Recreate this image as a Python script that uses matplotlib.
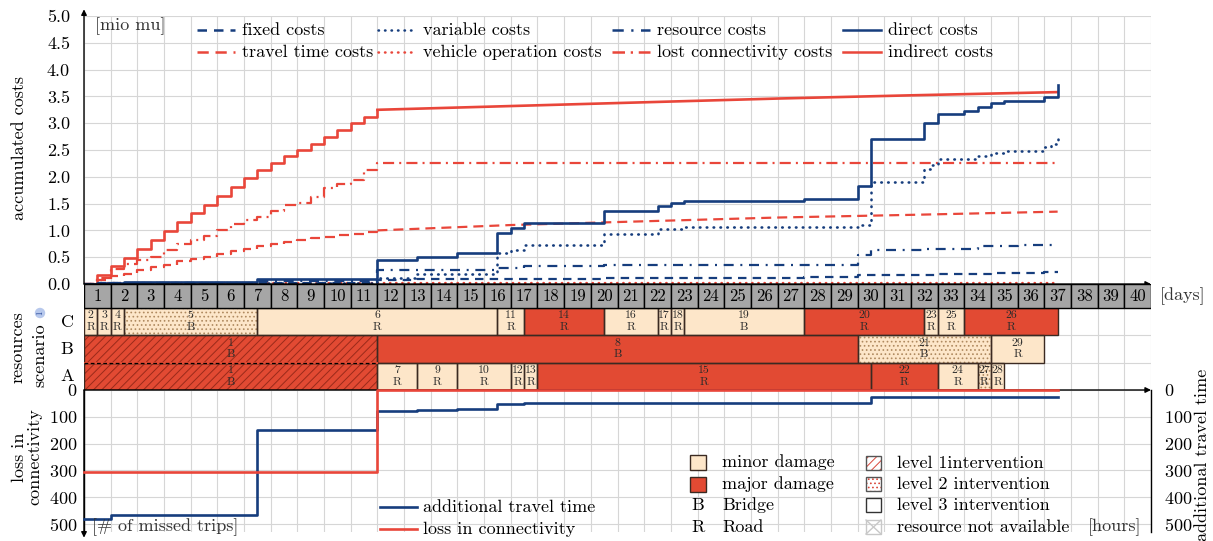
import numpy as np
import matplotlib
matplotlib.use("Agg")
import matplotlib.pyplot as plt
from matplotlib.patches import Rectangle
from matplotlib.lines import Line2D

plt.rcParams['font.family'] = ['cmr10', 'DejaVu Serif']
plt.rcParams['mathtext.fontset'] = 'cm'
plt.rcParams['axes.formatter.use_mathtext'] = True
plt.rcParams['hatch.linewidth'] = 0.7

# ---- accumulated costs [mio mu], step breakpoints (day, value) ----
indirect_days = [0, 0.5, 1, 1.5, 2, 2.5, 3, 3.5, 4, 4.5, 5, 5.5, 6, 6.5, 7, 7.5, 8, 8.5, 9, 9.5, 10, 10.5, 11]
indirect_vals = [0, 0.16, 0.33, 0.49, 0.65, 0.82, 0.98, 1.15, 1.32, 1.48, 1.64, 1.81, 1.97, 2.13, 2.26, 2.38, 2.50, 2.62, 2.75, 2.87, 3.00, 3.12, 3.25]
indirect_tail_days = [11, 16, 21, 26, 31, 36.5]
indirect_tail_vals = [3.25, 3.32, 3.39, 3.46, 3.52, 3.58]

travel_days = [0, 0.5, 1, 1.5, 2, 2.5, 3, 3.5, 4, 4.5, 5, 5.5, 6, 6.5, 7, 7.5, 8, 8.5, 9, 9.5, 10, 10.5, 11]
travel_vals = [0, 0.08, 0.15, 0.19, 0.27, 0.32, 0.36, 0.42, 0.46, 0.50, 0.56, 0.61, 0.66, 0.71, 0.75, 0.79, 0.83, 0.86, 0.88, 0.91, 0.94, 0.97, 1.00]
travel_tail_days = [11, 16, 21, 26, 31, 36.5]
travel_tail_vals = [1.00, 1.10, 1.17, 1.24, 1.29, 1.35]

lost_days = [0, 0.5, 1, 1.5, 2, 2.5, 3, 3.5, 4, 4.5, 5, 5.5, 6, 6.5, 7, 7.5, 8, 8.5, 9, 9.5, 10, 10.5, 11, 36.5]
lost_vals = [0, 0.12, 0.28, 0.37, 0.45, 0.50, 0.63, 0.75, 0.83, 0.90, 1.00, 1.12, 1.20, 1.25, 1.37, 1.48, 1.52, 1.62, 1.80, 1.86, 1.94, 2.12, 2.25, 2.25]

vehicle_days = [0, 0.5, 36.5]
vehicle_vals = [0, 0.01, 0.01]

direct_days = [0, 0.5, 1, 1.5, 6.5, 11, 12.5, 14, 15.5, 16, 16.5, 19.5, 21.5, 22, 22.5, 27, 29, 29.5, 31.5, 32, 33, 33.5, 34, 34.5, 36, 36.5]
direct_vals = [0, 0.01, 0.02, 0.03, 0.09, 0.45, 0.50, 0.57, 0.95, 1.04, 1.13, 1.37, 1.46, 1.51, 1.54, 1.58, 1.82, 2.70, 3.00, 3.18, 3.22, 3.30, 3.37, 3.42, 3.49, 3.72]

variable_days = [0, 0.5, 6.5, 11, 12.5, 14, 15.5, 16, 16.5, 19.5, 21.5, 22.5, 29, 29.5, 31.5, 31.75, 32, 33.5, 34, 34.5, 36, 36.25, 36.5]
variable_vals = [0, 0.005, 0.02, 0.12, 0.18, 0.19, 0.57, 0.63, 0.73, 0.93, 1.02, 1.07, 1.10, 1.91, 2.14, 2.22, 2.33, 2.38, 2.44, 2.49, 2.56, 2.62, 2.72]

resource_days = [0, 0.5, 1.5, 6.5, 11, 15.5, 16.5, 19.5, 22.5, 29, 29.5, 31.5, 33.5, 35, 36.5]
resource_vals = [0, 0.01, 0.015, 0.05, 0.26, 0.30, 0.33, 0.35, 0.36, 0.54, 0.63, 0.65, 0.70, 0.73, 0.73]

fixed_days = [0, 0.5, 6.5, 11, 12.5, 16, 19.5, 22.5, 27, 29, 32, 34, 36, 36.5]
fixed_vals = [0, 0.01, 0.02, 0.07, 0.09, 0.10, 0.11, 0.12, 0.13, 0.16, 0.18, 0.21, 0.22, 0.22]

# ---- scenario 1 schedule per resource ----
c_ids = [2, 3, 4, 5, 6, 11, 14, 16, 17, 18, 19, 20, 23, 25, 26]
c_start = [0, 0.5, 1, 1.5, 6.5, 15.5, 16.5, 19.5, 21.5, 22, 22.5, 27, 31.5, 32, 33]
c_end = [0.5, 1, 1.5, 6.5, 15.5, 16.5, 19.5, 21.5, 22, 22.5, 27, 31.5, 32, 33, 36.5]
c_obj = ['R', 'R', 'R', 'B', 'R', 'R', 'R', 'R', 'R', 'R', 'B', 'R', 'R', 'R', 'R']
c_damage = ['minor', 'minor', 'minor', 'minor', 'minor', 'minor', 'major', 'minor', 'minor', 'minor', 'minor', 'major', 'minor', 'minor', 'major']
c_level = [3, 3, 3, 2, 3, 3, 3, 3, 3, 3, 3, 3, 3, 3, 3]

b_ids = [1, 8, 21, 29]
b_start = [0, 11, 29, 34]
b_end = [11, 29, 34, 36]
b_obj = ['B', 'B', 'B', 'R']
b_damage = ['major', 'major', 'minor', 'minor']
b_level = [1, 3, 2, 3]

a_ids = [1, 7, 9, 10, 12, 13, 15, 22, 24, 27, 28]
a_start = [0, 11, 12.5, 14, 16, 16.5, 17, 29.5, 32, 33.5, 34]
a_end = [11, 12.5, 14, 16, 16.5, 17, 29.5, 32, 33.5, 34, 34.5]
a_obj = ['B', 'R', 'R', 'R', 'R', 'R', 'R', 'R', 'R', 'R', 'R']
a_damage = ['major', 'minor', 'minor', 'minor', 'minor', 'minor', 'major', 'major', 'minor', 'minor', 'minor']
a_level = [1, 3, 3, 3, 3, 3, 3, 3, 3, 2, 3]

days = list(range(1, 41))

# ---- network performance ----
missed_days = [0, 11, 36.5]
missed_trips = [305, 0, 0]
extra_days = [0, 1, 6.5, 11, 12.5, 14, 15.5, 16.5, 29.5, 36.5]
extra_hours = [480, 465, 150, 77, 75, 72, 53, 50, 27, 27]

W, H = 1213, 541
BLUE = '#163d7d'
RED = '#e9463a'
MAJOR = '#e24a33'
MINOR = '#fde6c9'
GRID = '#d6d6d6'
HEAD = '#a6a6a6'
FS = 13

ls_fixed = (0, (3.8, 2.8))
ls_var = (0, (0.2, 2.4))
ls_res = (0, (4.5, 3.0, 0.9, 3.0))
ls_travel = (0, (4.5, 2.7))
ls_lost = (0, (5.0, 2.3, 0.9, 2.3))


def fx(x):
    return x / W


def fy(y):
    return 1 - y / H


fig = plt.figure(figsize=(W / 100, H / 100), dpi=100)

ax_top = fig.add_axes([fx(84), fy(284), 1067 / W, 268 / H])
ax_mid = fig.add_axes([fx(84), fy(390), 1067 / W, 106 / H])
ax_bot = fig.add_axes([fx(84), fy(532), 1067 / W, 142 / H])

# ---------------- costs panel ----------------
ax_top.set_xlim(0, 40)
ax_top.set_ylim(0, 5.0)
ax_top.set_xticks(range(41))
ax_top.set_xticklabels([])
ax_top.set_yticks(np.arange(0, 5.01, 0.5))
ax_top.set_yticklabels([f'{v:.1f}' for v in np.arange(0, 5.01, 0.5)])
ax_top.tick_params(length=0, labelsize=FS)
ax_top.tick_params(axis='y', pad=10)
ax_top.grid(True, color=GRID, lw=0.8)
ax_top.set_axisbelow(True)
for s in ax_top.spines.values():
    s.set_visible(False)

ax_top.plot(vehicle_days, vehicle_vals, drawstyle='steps-post', color=RED, lw=1.7, ls=ls_var,
            dash_capstyle='round')
ax_top.plot(travel_days, travel_vals, drawstyle='steps-post', color=RED, lw=1.6, ls=ls_travel)
ax_top.plot(travel_tail_days, travel_tail_vals, color=RED, lw=1.6, ls=ls_travel)
ax_top.plot(lost_days, lost_vals, drawstyle='steps-post', color=RED, lw=1.6, ls=ls_lost)
ax_top.plot(indirect_days, indirect_vals, drawstyle='steps-post', color=RED, lw=1.9)
ax_top.plot(indirect_tail_days, indirect_tail_vals, color=RED, lw=1.9)
ax_top.plot(fixed_days, fixed_vals, drawstyle='steps-post', color=BLUE, lw=1.6, ls=ls_fixed)
ax_top.plot(variable_days, variable_vals, drawstyle='steps-post', color=BLUE, lw=1.9, ls=ls_var,
            dash_capstyle='round')
ax_top.plot(resource_days, resource_vals, drawstyle='steps-post', color=BLUE, lw=1.6, ls=ls_res)
ax_top.plot(direct_days, direct_vals, drawstyle='steps-post', color=BLUE, lw=1.9)

arrow = dict(arrowstyle='-|>', color='black', lw=1, mutation_scale=8, shrinkA=0, shrinkB=0)
ax_top.annotate('', xy=(0, 1.025), xytext=(0, 0), xycoords='axes fraction', arrowprops=arrow)
ax_top.annotate('', xy=(1.0, 0), xytext=(0, 0), xycoords='axes fraction', arrowprops=arrow)

# legend of the costs panel
legend_rows = [
    [('fixed costs', BLUE, ls_fixed, 197), ('variable costs', BLUE, ls_var, 378),
     ('resource costs', BLUE, ls_res, 612), ('direct costs', BLUE, '-', 843)],
    [('travel time costs', RED, ls_travel, 197), ('vehicle operation costs', RED, ls_var, 378),
     ('lost connectivity costs', RED, ls_lost, 612), ('indirect costs', RED, '-', 843)],
]
for y, row in zip([30, 52], legend_rows):
    for label, col, ls, x0 in row:
        fig.add_artist(Line2D([fx(x0), fx(x0 + 38)], [fy(y), fy(y)], color=col, lw=1.8, ls=ls,
                              dash_capstyle='round' if ls == ls_var else 'butt'))
        fig.text(fx(x0 + 45), fy(y), label, fontsize=FS, va='center', ha='left')

fig.text(fx(95), fy(26), '[mio mu]', fontsize=FS, va='center', ha='left', color='#333333')
fig.text(fx(19), fy(148), 'accumulated costs', fontsize=FS, rotation=90, va='center', ha='center')

# ---------------- schedule panel ----------------
ax_mid.set_xlim(0, 40)
ax_mid.set_ylim(0, 3.88)
ax_mid.set_xticks(range(41))
ax_mid.set_yticks([0, 1, 2, 3])
ax_mid.set_xticklabels([])
ax_mid.set_yticklabels([])
ax_mid.tick_params(length=0)
ax_mid.grid(True, color=GRID, lw=0.8)
ax_mid.set_axisbelow(True)
for s in ax_mid.spines.values():
    s.set_visible(False)

for d in days:
    ax_mid.add_patch(Rectangle((d - 1, 3), 1, 0.88, fc=HEAD, ec='black', lw=1, zorder=3))
    ax_mid.text(d - 0.5, 3.44, str(d), ha='center', va='center', fontsize=12, zorder=4)


def draw_row(row, ids, starts, ends, objs, damages, levels):
    for tid, s, e, ob, dm, lv in zip(ids, starts, ends, objs, damages, levels):
        fc = MAJOR if dm == 'major' else MINOR
        ax_mid.add_patch(Rectangle((s, row), e - s, 1, fc=fc, ec='none', zorder=2))
        if lv == 1:
            ax_mid.add_patch(Rectangle((s, row), e - s, 1, fill=False, ec='#9a2a1a', lw=0,
                                       hatch='////', zorder=2.1))
        elif lv == 2:
            ax_mid.add_patch(Rectangle((s, row), e - s, 1, fill=False, ec='#b08a60', lw=0,
                                       hatch='....', zorder=2.1))
        ax_mid.add_patch(Rectangle((s, row), e - s, 1, fill=False, ec='#3b2a22', lw=1, zorder=2.2))
        ax_mid.text((s + e) / 2, row + 0.72, str(tid), ha='center', va='center', fontsize=8.5,
                    color='#2b2b2b', zorder=3)
        ax_mid.text((s + e) / 2, row + 0.3, ob, ha='center', va='center', fontsize=8.5,
                    color='#2b2b2b', zorder=3)


draw_row(2, c_ids, c_start, c_end, c_obj, c_damage, c_level)
draw_row(1, b_ids, b_start, b_end, b_obj, b_damage, b_level)
draw_row(0, a_ids, a_start, a_end, a_obj, a_damage, a_level)
# task 1 uses resources A and B together
ax_mid.plot([0, 11], [1, 1], color=MAJOR, lw=1.4, zorder=2.3)
ax_mid.plot([0, 11], [1, 1], color='black', lw=0.9, ls=(0, (3, 2)), zorder=2.4)

for lab, yy in zip(['C', 'B', 'A'], [322, 349, 376]):
    fig.text(fx(67), fy(yy), lab, fontsize=FS, ha='center', va='center')
fig.text(fx(18), fy(347), 'resources', fontsize=FS, rotation=90, ha='center', va='center')
fig.text(fx(40), fy(355), 'scenario', fontsize=FS, rotation=90, ha='center', va='center')
fig.text(fx(40), fy(313), '1', fontsize=6, rotation=90, ha='center', va='center', color='#2a4a9a',
         bbox=dict(boxstyle='circle,pad=0.12', fc='#b7c8ec', ec='none'))
fig.text(fx(1160), fy(296), '[days]', fontsize=FS, ha='left', va='center', color='#333333')

# ---------------- network panel ----------------
ax_bot.set_xlim(0, 40)
ax_bot.set_ylim(530, 0)
ax_bot.set_xticks(range(41))
ax_bot.set_xticklabels([])
ax_bot.set_yticks(range(0, 501, 100))
ax_bot.tick_params(length=0, labelsize=FS, pad=5)
ax_bot.grid(True, color=GRID, lw=0.8)
ax_bot.set_axisbelow(True)
ax_bot.spines['bottom'].set_visible(False)
ax_bot.spines['right'].set_visible(False)
ax_bot.spines['top'].set_visible(False)
ax_bot.spines['left'].set_linewidth(1)

ax_r = ax_bot.twinx()
ax_r.set_ylim(530, 0)
ax_r.set_yticks(range(0, 501, 100))
ax_r.tick_params(length=0, labelsize=FS, pad=9)
for k in ['left', 'top', 'bottom']:
    ax_r.spines[k].set_visible(False)
ax_r.spines['right'].set_linewidth(1)

ax_r.annotate('', xy=(1.0, 1), xytext=(0, 1), xycoords='axes fraction', arrowprops=arrow)
ax_r.annotate('', xy=(0, -0.04), xytext=(0, 1), xycoords='axes fraction', arrowprops=arrow)
ax_r.plot(extra_days, extra_hours, drawstyle='steps-post', color=BLUE, lw=1.9, clip_on=False, zorder=5)
ax_r.plot(missed_days, missed_trips, drawstyle='steps-post', color=RED, lw=1.9, clip_on=False, zorder=6)

fig.text(fx(27), fy(457), 'loss in\nconnectivity', fontsize=FS, rotation=90, ha='center', va='center',
         linespacing=0.95)
fig.text(fx(1202), fy(455), 'additional travel time', fontsize=FS, rotation=90, ha='center', va='center')
fig.text(fx(92), fy(527), '[# of missed trips]', fontsize=FS, ha='left', va='center', color='#333333')
fig.text(fx(1088), fy(527), '[hours]', fontsize=FS, ha='left', va='center', color='#333333')

# line legend
for y, col, lab in [(507, BLUE, 'additional travel time'), (529, RED, 'loss in connectivity')]:
    fig.add_artist(Line2D([fx(380), fx(417)], [fy(y), fy(y)], color=col, lw=1.9))
    fig.text(fx(423), fy(y), lab, fontsize=FS, ha='left', va='center')

# damage legend
for y, fc, lab in [(462, MINOR, 'minor damage'), (484, MAJOR, 'major damage')]:
    fig.add_artist(Rectangle((fx(690), fy(y + 8)), 16 / W, 15 / H, fc=fc, ec='#3b2a22', lw=1))
    fig.text(fx(722), fy(y), lab, fontsize=FS, ha='left', va='center')
for y, k, lab in [(505, 'B', 'Bridge'), (527, 'R', 'Road')]:
    fig.text(fx(698), fy(y), k, fontsize=FS, ha='center', va='center')
    fig.text(fx(722), fy(y), lab, fontsize=FS, ha='left', va='center')

# intervention legend
boxes = [(463, '////', '#d9473a', '#555555', 'level 1intervention'),
         (484, '....', '#d9473a', '#555555', 'level 2 intervention'),
         (505, None, None, '#333333', 'level 3 intervention'),
         (527, None, None, '#c8c8c8', 'resource not available')]
for y, hat, hc, ec, lab in boxes:
    if hat:
        fig.add_artist(Rectangle((fx(866), fy(y + 7)), 15 / W, 14 / H, fill=False, ec=hc, lw=0, hatch=hat))
    fig.add_artist(Rectangle((fx(866), fy(y + 7)), 15 / W, 14 / H, fill=False, ec=ec, lw=1))
    if lab == 'resource not available':
        fig.add_artist(Line2D([fx(866), fx(881)], [fy(y + 7), fy(y - 7)], color=ec, lw=1))
        fig.add_artist(Line2D([fx(866), fx(881)], [fy(y - 7), fy(y + 7)], color=ec, lw=1))
    fig.text(fx(897), fy(y), lab, fontsize=FS, ha='left', va='center')

fig.savefig('out.png', dpi=100)
